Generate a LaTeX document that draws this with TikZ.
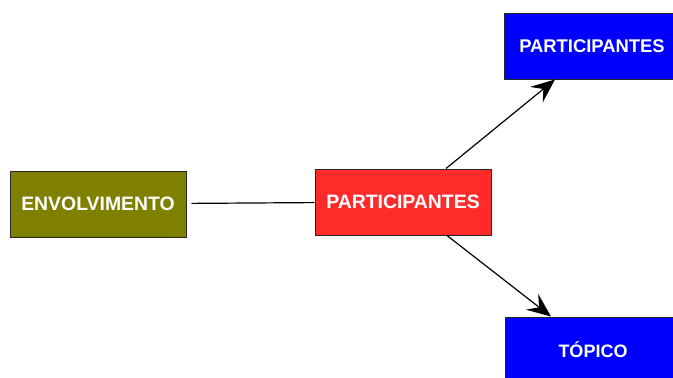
\documentclass[tikz,border=0pt]{standalone}
\usepackage{fontspec}
\setmainfont{Liberation Sans}
\usepackage{tikz}
\definecolor{olivebox}{rgb}{0.5, 0.5, 0.0}
\definecolor{redbox}{rgb}{1.0, 0.17, 0.17}
\definecolor{bluebox}{rgb}{0.0, 0.0, 1.0}
\usetikzlibrary{arrows.meta}

\begin{document}
\begin{tikzpicture}[x=1pt, y=-1pt,
    box/.style={draw=black!85, line width=1pt, minimum width=176pt, minimum height=66pt,
                text=white, font=\fontsize{19.4}{23}\selectfont\bfseries, inner sep=0pt},
    leaf/.style={box, fill=bluebox, font=\fontsize{18.4}{22}\selectfont\bfseries},
    link/.style={line width=1.2pt, black},
    tip/.style={-{Stealth[length=24pt, width=20pt, inset=9pt]}}]
                            \useasboundingbox (0,0) rectangle (673,378);
                            \clip (0,0) rectangle (673,378);
                            \node[box, fill=olivebox] (env)   at (98,204)  {ENVOLVIMENTO};
                            \node[box, fill=redbox]   (part)  at (403,202) {PARTICIPANTES};
                            \node[leaf]               (partb) at (592,46)  {PARTICIPANTES};
                            \node[leaf, font=\fontsize{18}{22}\selectfont\bfseries] (top) at (593,350) {TÓPICO};
                            \draw [link, shorten <=5pt] (env) -- (part);
                            \draw [link, tip] ([xshift=43pt]part.north) -- ([xshift=-37pt]partb.south);
                            \draw [link, tip] ([xshift=44pt]part.south) -- ([xshift=-42pt]top.north);
                        \end{tikzpicture}
\end{document}
